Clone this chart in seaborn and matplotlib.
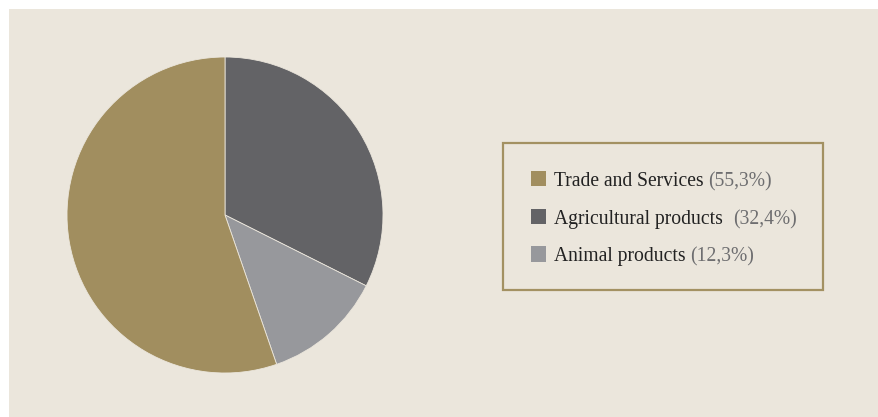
import matplotlib
matplotlib.use("Agg")
import matplotlib.pyplot as plt
import seaborn as sns
from matplotlib.patches import Rectangle

# ---- data ----
categories = ["Trade and Services", "Agricultural products", "Animal products"]
shares = [55.3, 32.4, 12.3]
share_labels = ["(55,3%)", "(32,4%)", "(12,3%)"]
colors = ["#a18e5f", "#636366", "#97989c"]
pie_order = [1, 2, 0]  # clockwise from the top

sns.set_theme(style="white")
plt.rcParams['font.family'] = ['Liberation Serif', 'DejaVu Serif']

W, H = 879, 417
BG = "#ebe6dc"
fig = plt.figure(figsize=(W / 100, H / 100), dpi=100, facecolor="white")

# overlay in pixel coordinates
ov = fig.add_axes([0, 0, 1, 1])
ov.set_xlim(0, W)
ov.set_ylim(H, 0)
ov.axis("off")
ov.add_patch(Rectangle((9, 9), W - 9, H - 9, facecolor=BG, edgecolor="none", zorder=0))

# pie
cx, cy, r = 225, 215, 158
pax = fig.add_axes([(cx - r) / W, (H - cy - r) / H, 2 * r / W, 2 * r / H])
pax.pie([shares[i] for i in pie_order],
        colors=[colors[i] for i in pie_order],
        startangle=90, counterclock=False, radius=1,
        wedgeprops=dict(edgecolor=BG, linewidth=0.6))
pax.set_xlim(-1, 1)
pax.set_ylim(-1, 1)
pax.axis("off")

# legend box
ov.add_patch(Rectangle((503, 143), 320, 147, facecolor="none",
                       edgecolor="#a39162", linewidth=1.6, zorder=2))
row_y = [178.5, 216.5, 254]
gaps = [5, 10, 5]
fs = 14.1
for i, (name, pct, col) in enumerate(zip(categories, share_labels, colors)):
    y = row_y[i]
    ov.add_patch(Rectangle((531, y - 7.7), 15.5, 15.5, facecolor=col, edgecolor="none", zorder=3))
    t = ov.text(554, y + 7.5, name, fontsize=fs, color="#222222", va="baseline", ha="left", zorder=3)
    ov.annotate(pct, xy=(1, 0), xycoords=t, xytext=(gaps[i], 0), textcoords="offset pixels",
                fontsize=fs, color="#6e6e70", va="bottom", ha="left", zorder=3)

fig.savefig("out.png", dpi=100, facecolor="white")
